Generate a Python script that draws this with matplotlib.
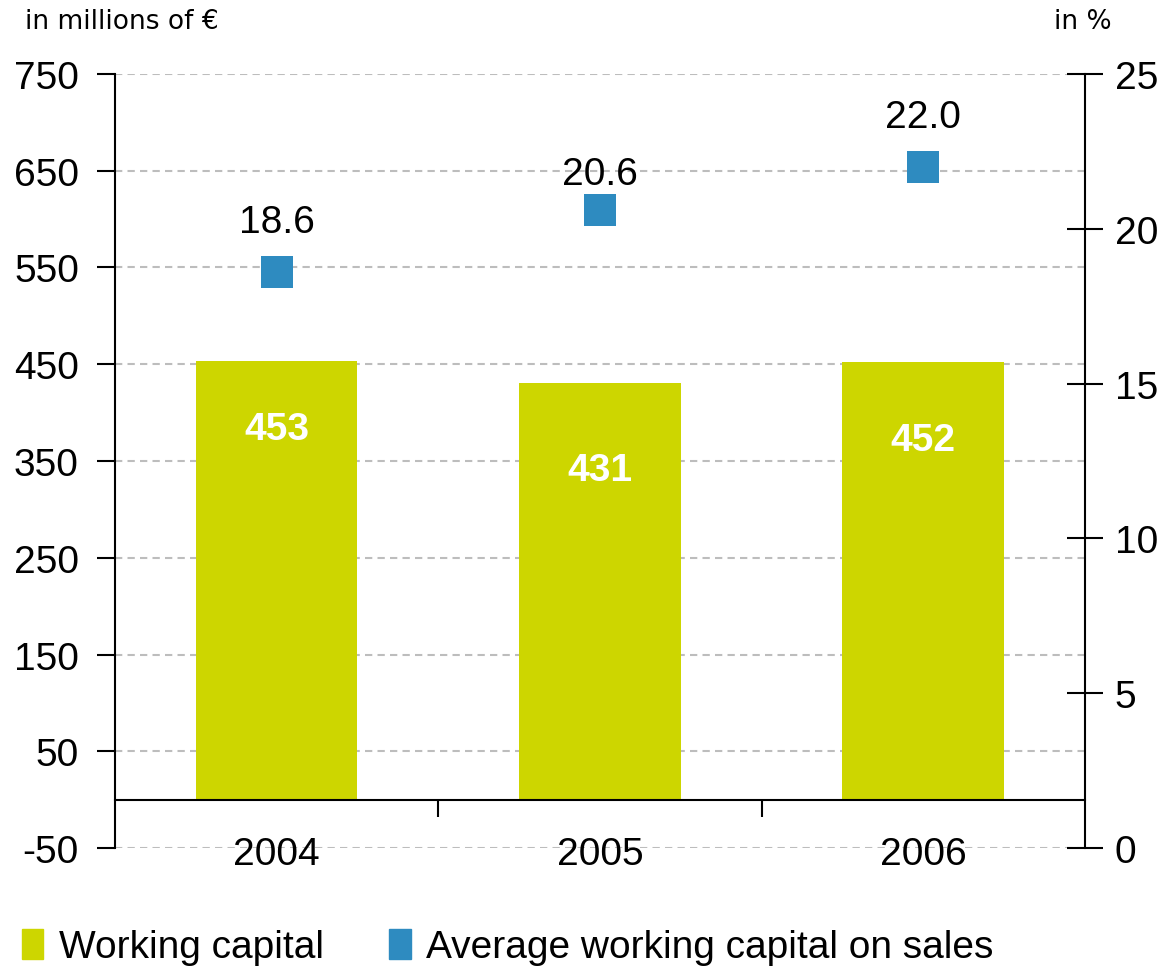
import matplotlib.pyplot as plt
from matplotlib.patches import Patch

# Working capital and its ratio to sales
years = ['2004', '2005', '2006']
working_capital = [453, 431, 452]          # in millions of EUR
avg_wc_on_sales = [18.6, 20.6, 22.0]       # in %

left_ticks = [-50, 50, 150, 250, 350, 450, 550, 650, 750]
right_ticks = [0, 5, 10, 15, 20, 25]

bar_color = '#CDD600'
square_color = '#2E8BC0'
num_font = 'Liberation Sans'
fs = 28

fig = plt.figure(figsize=(11.66, 9.70), dpi=100)
ax = fig.add_axes([0.0986, 0.1247, 0.8319, 0.798])
x = list(range(len(years)))

# Bars for working capital
bars = ax.bar(x, working_capital, width=0.5, color=bar_color, zorder=2)
ax.set_xlim(-0.5, 2.5)
ax.set_ylim(-50, 750)
ax.set_yticks(left_ticks)
ax.set_yticklabels([str(t) for t in left_ticks], fontsize=fs, family=num_font)
ax.tick_params(axis='y', direction='out', length=13, width=1.5, pad=13)

# dashed grid lines
for t in left_ticks:
    ax.axhline(t, color='#BDBDBD', lw=1.5, ls=(0, (3.5, 2.5)), zorder=0)

# x axis runs along the zero line, ticks between the years
ax.spines['bottom'].set_position(('data', 0))
ax.spines['bottom'].set_linewidth(1.5)
ax.spines['left'].set_linewidth(1.5)
ax.spines['top'].set_visible(False)
ax.spines['right'].set_visible(False)
ax.set_xticks(x)
ax.set_xticklabels(years, fontsize=fs, family=num_font)
ax.tick_params(axis='x', which='major', length=0, pad=26)
ax.set_xticks([0.5, 1.5], minor=True)
ax.tick_params(axis='x', which='minor', direction='out', length=12, width=1.5)

# values inside bars
drops = [70, 90, 80]
for xi, v, d in zip(x, working_capital, drops):
    ax.text(xi, v - d, str(v), ha='center', va='center', color='white',
            fontsize=fs, fontweight='bold', family=num_font, zorder=3)

# Percent axis on the right
ax2 = ax.twinx()
ax2.set_ylim(0, 25)
ax2.set_yticks(right_ticks)
ax2.set_yticklabels([str(t) for t in right_ticks], fontsize=fs, family=num_font)
ax2.tick_params(axis='y', direction='inout', length=26, width=1.5, pad=8.5)
for s in ['top', 'left', 'bottom']:
    ax2.spines[s].set_visible(False)
ax2.spines['right'].set_linewidth(1.5)

ax2.plot(x, avg_wc_on_sales, 's', color=square_color, markersize=22.5,
         markeredgewidth=0, zorder=4)
offsets = [50, 36, 50]
for xi, v, o in zip(x, avg_wc_on_sales, offsets):
    ax2.annotate(f'{v:.1f}', (xi, v), xytext=(0, o), textcoords='offset pixels',
                 ha='center', va='center', fontsize=fs, family=num_font)

# unit labels
fig.text(25 / 1166, 1 - 22 / 970, 'in millions of €', ha='left', va='center',
         fontsize=19, family='DejaVu Sans')
fig.text(1112 / 1166, 1 - 22 / 970, 'in %', ha='right', va='center',
         fontsize=19, family='DejaVu Sans')

handles = [Patch(color=bar_color, label='Working capital'),
           Patch(color=square_color, label='Average working capital on sales')]
fig.legend(handles=handles, loc='center left', bbox_to_anchor=(22 / 1166, 1 - 948 / 970),
           ncol=2, frameon=False, handlelength=0.55, handleheight=0.8,
           handletextpad=0.4, columnspacing=1.68, borderpad=0, borderaxespad=0,
           prop={'family': num_font, 'size': fs})

fig.savefig('out.png', dpi=100)
